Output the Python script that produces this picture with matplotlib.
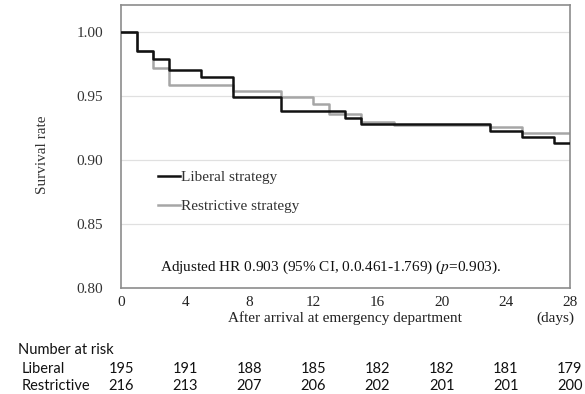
import numpy as np
import matplotlib
matplotlib.use('Agg')
import matplotlib.pyplot as plt
from matplotlib.transforms import blended_transform_factory

plt.rcParams['mathtext.fontset'] = 'stix'

# Kaplan-Meier steps
liberal_days = [0, 1, 2, 3, 5, 7, 10, 14, 15, 23, 25, 27, 28]
liberal_surv = [1.0, 0.985, 0.979, 0.970, 0.9645, 0.9495, 0.938, 0.933, 0.928,
                0.923, 0.918, 0.913, 0.913]
restrictive_days = [0, 1, 2, 3, 7, 10, 12, 13, 15, 17, 23, 25, 28]
restrictive_surv = [1.0, 0.985, 0.972, 0.9585, 0.954, 0.9495, 0.944, 0.936, 0.930,
                    0.927, 0.9255, 0.921, 0.921]

risk_days = [0, 4, 8, 12, 16, 20, 24, 28]
risk_liberal = [195, 191, 188, 185, 182, 182, 181, 179]
risk_restrictive = [216, 213, 207, 206, 202, 201, 201, 200]

xticks = np.arange(0, 29, 4)
yticks = [0.80, 0.85, 0.90, 0.95, 1.00]

serif = 'Liberation Serif'
sans = 'Lato'
fs = 11

fig = plt.figure(figsize=(5.85, 3.94), dpi=100, facecolor='w')
ax = fig.add_axes([0.207, 0.269, 0.767, 0.718])

ax.step(liberal_days, liberal_surv, where='post', color='#111111', lw=1.8,
        label='Liberal strategy', zorder=3)
ax.step(restrictive_days, restrictive_surv, where='post', color='#a6a6a6', lw=1.8,
        label='Restrictive strategy', zorder=2)

ax.set_xlim(0, 28)
ax.set_ylim(0.80, 1.021)
ax.set_xticks(xticks)
ax.set_yticks(yticks)
ax.set_xticklabels([str(t) for t in xticks], fontfamily=serif, fontsize=fs,
                   color='#222222')
ax.set_yticklabels(['%.2f' % t for t in yticks], fontfamily=serif, fontsize=fs,
                   color='#333333')
ax.tick_params(axis='both', length=0)
ax.tick_params(axis='x', pad=6)
ax.tick_params(axis='y', pad=13)

for s in ax.spines.values():
    s.set_color('#8c8c8c')
    s.set_linewidth(1.2)
for y in yticks[1:]:
    ax.axhline(y, color='#e0e0e0', lw=0.9, zorder=0)

ax.set_ylabel('Survival rate', fontfamily=serif, fontsize=fs, color='#333333',
              va='center')
ax.yaxis.set_label_coords(-0.176, 0.47)

leg = ax.legend(loc='upper left', bbox_to_anchor=(0.069, 0.436), frameon=False,
                handlelength=1.45, handletextpad=0.05, labelspacing=1.0,
                borderaxespad=0, prop={'family': serif, 'size': fs})
for t in leg.get_texts():
    t.set_color('#333333')

ax.text(0.087, 0.074, 'Adjusted HR 0.903 (95% CI, 0.0.461-1.769) ($\\it{p}$=0.903).',
        transform=ax.transAxes, va='center', fontfamily=serif, fontsize=fs,
        color='#111111')

# x axis caption
fig.text(345 / 585, 1 - 318 / 394, 'After arrival at emergency department',
         ha='center', va='center', fontfamily=serif, fontsize=fs,
         color='#222222')
fig.text(555 / 585, 1 - 318 / 394, '(days)', ha='center', va='center',
         fontfamily=serif, fontsize=fs, color='#222222')

# number at risk table
fig.text(18 / 585, 1 - 350 / 394, 'Number at risk', ha='left', va='center',
         fontfamily=sans, fontsize=10.5, color='#111111')
fig.text(22 / 585, 1 - 369 / 394, 'Liberal', ha='left', va='center',
         fontfamily=sans, fontsize=10.5, color='#111111')
fig.text(22 / 585, 1 - 386 / 394, 'Restrictive', ha='left', va='center',
         fontfamily=sans, fontsize=10.5, color='#111111')

tr = blended_transform_factory(ax.transData, fig.transFigure)
for d, a, b in zip(risk_days, risk_liberal, risk_restrictive):
    ax.text(d, 1 - 369 / 394, str(a), transform=tr, ha='center', va='center',
            fontfamily=sans, fontsize=10.5, color='#111111', clip_on=False)
    ax.text(d, 1 - 386 / 394, str(b), transform=tr, ha='center', va='center',
            fontfamily=sans, fontsize=10.5, color='#111111', clip_on=False)

fig.savefig('out.png', dpi=100)
